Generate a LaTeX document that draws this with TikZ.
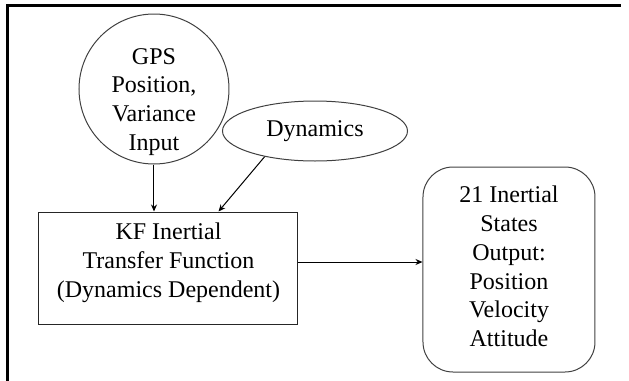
\documentclass[tikz,border=0pt]{standalone}
\usepackage{fontspec}
\setmainfont{LiberationSerif}[Extension=.ttf,UprightFont=*-Regular,BoldFont=*-Bold]
\usetikzlibrary{positioning}
\usetikzlibrary{arrows.meta,shapes.geometric}

\begin{document}
\begin{tikzpicture}[x=0.5pt,y=-0.5pt,font=\fontsize{12}{14.4}\selectfont,
  >={Stealth[length=3.5pt,width=3pt]},
  shapeline/.style={draw=black!75,line width=0.5pt,inner sep=0pt,align=center},
  link/.style={->,line width=0.5pt}]

\useasboundingbox (0,0) rectangle (629,381);

\coordinate (f1) at (7.5,381);
\coordinate (f2) at (7.5,5);
\coordinate (f3) at (621,5);

\draw[line width=1.5pt] (f1) -- (f2) -- (f3);

\node[shapeline,circle,minimum size=75pt,
  label={[align=center,yshift=-6.5pt]center:GPS\\Position,\\Variance\\Input}] (gps) at (154,89) {};
\node[shapeline,ellipse,minimum width=92.5pt,minimum height=30pt] (dyn) at (315,131) {Dynamics};
\node[shapeline,rectangle,draw=black!85,minimum width=129.5pt,minimum height=56pt,
  label={[align=center,yshift=2.5pt]center:KF Inertial\\Transfer Function\\(Dynamics Dependent)}] (kf) at (168.5,268) {};
\node[shapeline,rectangle,rounded corners=15pt,minimum width=86pt,minimum height=102.5pt,
  label={[align=center,yshift=1.5pt]center:21 Inertial\\States\\Output:\\Position\\Velocity\\Attitude}] (out) at (509,269.5) {};

\coordinate (dynend) at ([xshift=25pt]kf.north);

\draw[link] (gps.south) -- (gps.south |- kf.north);
\draw[link] (dyn.207) -- (dynend);
\draw[link] ([yshift=3pt]kf.east) -- ([yshift=3pt]kf.east -| out.west);
\end{tikzpicture}
\end{document}
